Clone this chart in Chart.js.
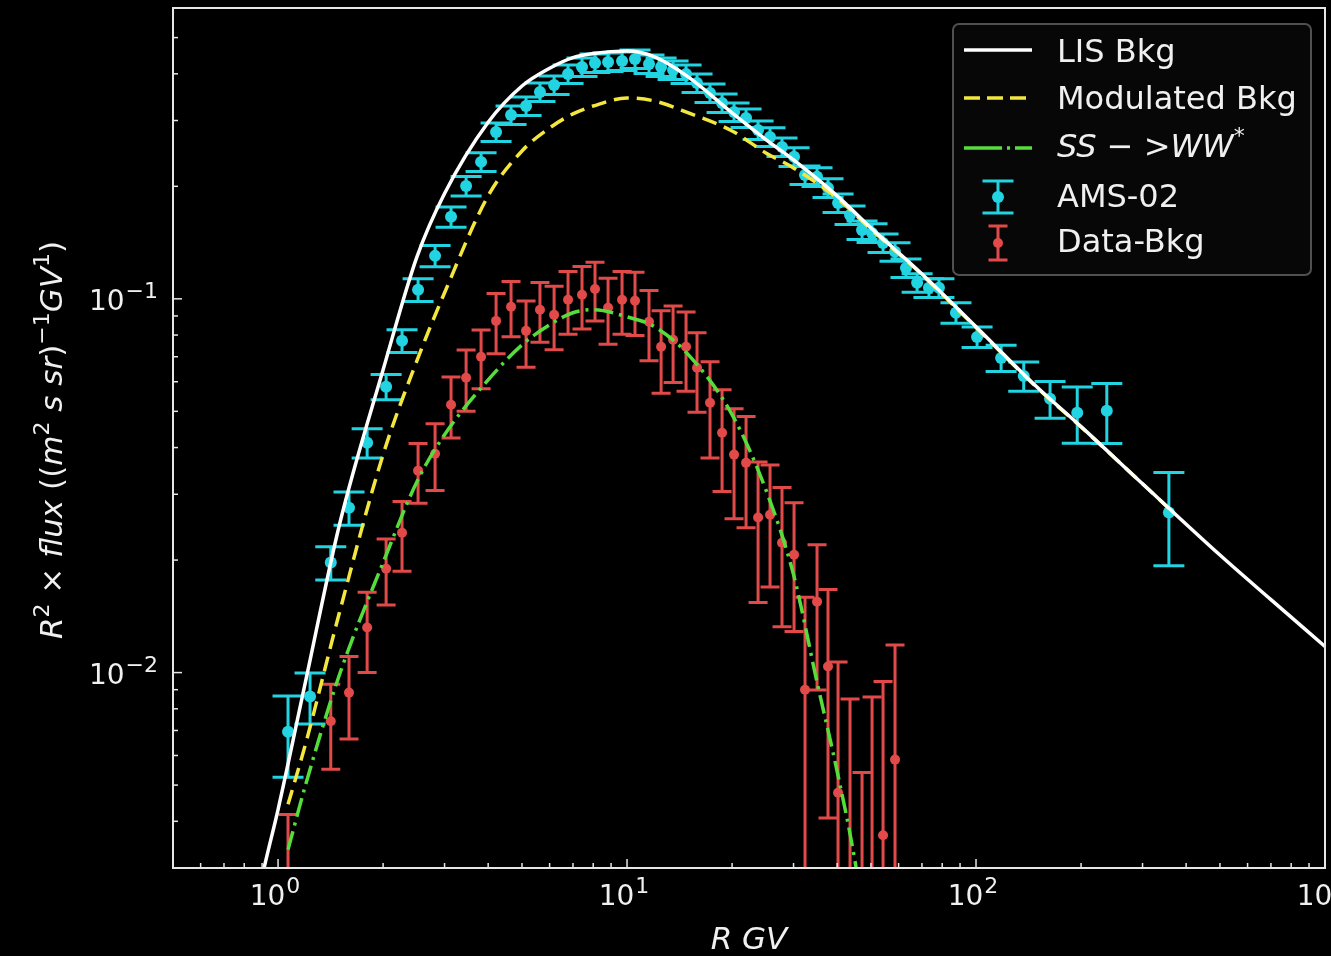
<!DOCTYPE html>
<html>
<head>
<meta charset="utf-8">
<script src="https://cdn.jsdelivr.net/npm/chart.js@4.4.1/dist/chart.umd.min.js"></script>
<style>
  html, body { margin: 0; padding: 0; background: #000; overflow: hidden; }
  canvas { display: block; }
</style>
</head>
<body>
<canvas id="mycanvas" width="1331" height="956"></canvas>
<script>
// LIS background (white solid)
var lisR    = [0.85, 0.912, 1.0, 1.2, 1.5, 2, 2.5, 3, 4, 5, 6, 7, 8, 10, 12, 15, 20, 25, 30, 40, 50, 70, 100, 150, 200, 300, 500, 700, 1000];
var lisFlux = [0.0022, 0.003, 0.0043, 0.0095, 0.0249, 0.0646, 0.1295, 0.1914, 0.2967, 0.371, 0.414, 0.442, 0.4533, 0.4603, 0.444, 0.392, 0.3144, 0.2667, 0.2353, 0.1886, 0.1548, 0.1166, 0.0842, 0.0579, 0.0455, 0.032, 0.02063, 0.01567, 0.01174];

// modulated background (yellow dashed)
var modR    = [1.068, 1.2, 1.5, 2, 2.5, 3, 4, 5, 6, 7, 8, 10, 12, 15, 20, 25, 30, 40, 50, 70, 100, 150, 200, 357];
var modFlux = [0.00444, 0.00646, 0.0145, 0.0383, 0.0683, 0.1038, 0.1886, 0.2487, 0.2866, 0.3125, 0.328, 0.3446, 0.3383, 0.3144, 0.2812, 0.2457, 0.224, 0.186, 0.1535, 0.116, 0.0838, 0.0577, 0.0454, 0.0275];

// SS -> WW* (green dash-dot)
var ssR    = [1.068, 1.2, 1.5, 2, 2.5, 3, 4, 5, 6, 7, 8, 10, 12, 15, 20, 25, 30, 35, 40, 45, 48];
var ssFlux = [0.00336, 0.00502, 0.00988, 0.0197, 0.0324, 0.0433, 0.0607, 0.0753, 0.0852, 0.0918, 0.0935, 0.0895, 0.0842, 0.0708, 0.049, 0.0308, 0.01828, 0.00946, 0.00544, 0.00313, 0.0021];

// AMS-02 points with errors
var amsR    = [1.068, 1.235, 1.416, 1.597, 1.80, 2.04, 2.266, 2.519, 2.818, 3.131, 3.458, 3.817, 4.214, 4.652, 5.136, 5.63, 6.18, 6.776, 7.43, 8.095, 8.823, 9.676, 10.54, 11.56, 12.52, 13.55, 14.76, 15.87, 17.29, 18.72, 20.26, 21.93, 23.74, 25.69, 27.8, 30.1, 32.36, 35.03, 37.66, 40.24, 43.55, 47.14, 50.36, 54.15, 58.6, 63.0, 67.8, 73.3, 78.3, 87.6, 100.7, 118, 137, 163, 195, 237, 357];
var amsFlux = [0.00695, 0.00863, 0.0197, 0.0276, 0.0412, 0.0582, 0.0772, 0.1057, 0.1303, 0.1657, 0.2005, 0.2325, 0.2795, 0.3105, 0.328, 0.3577, 0.3734, 0.3996, 0.4172, 0.4276, 0.430, 0.4329, 0.4383, 0.425, 0.4172, 0.4096, 0.3996, 0.378, 0.3555, 0.3342, 0.3162, 0.3048, 0.283, 0.2712, 0.255, 0.2398, 0.2146, 0.212, 0.1981, 0.1806, 0.1677, 0.1529, 0.1501, 0.1411, 0.1336, 0.121, 0.1104, 0.107, 0.107, 0.0918, 0.0791, 0.0695, 0.0622, 0.054, 0.0496, 0.0502, 0.0268];
var amsErr  = [0.0017, 0.00135, 0.002, 0.0028, 0.0037, 0.0045, 0.0054, 0.0074, 0.0085, 0.0103, 0.012, 0.0135, 0.016, 0.0177, 0.0187, 0.0204, 0.0213, 0.0228, 0.0238, 0.0244, 0.0245, 0.0247, 0.025, 0.0242, 0.0238, 0.0233, 0.0228, 0.0215, 0.0203, 0.019, 0.018, 0.0174, 0.0161, 0.0155, 0.0145, 0.0137, 0.0122, 0.0121, 0.0113, 0.0103, 0.0096, 0.0087, 0.0086, 0.008, 0.0076, 0.0069, 0.0063, 0.0061, 0.0061, 0.0058, 0.005, 0.0056, 0.0056, 0.0061, 0.0085, 0.0092, 0.0075];

// Data - Bkg points with errors
var diffR    = [1.068, 1.416, 1.597, 1.80, 2.04, 2.266, 2.519, 2.818, 3.131, 3.458, 3.817, 4.214, 4.652, 5.136, 5.63, 6.18, 6.776, 7.43, 8.095, 8.823, 9.676, 10.54, 11.56, 12.52, 13.55, 14.76, 15.87, 17.29, 18.72, 20.26, 21.93, 23.74, 25.69, 27.8, 30.1, 32.36, 35.03, 37.66, 40.24, 43.55, 47.14, 50.36, 54.15, 58.6];
var diffFlux = [0.0027, 0.00741, 0.00884, 0.0132, 0.01897, 0.02367, 0.0347, 0.0385, 0.0521, 0.0615, 0.07, 0.0873, 0.0952, 0.0821, 0.0935, 0.0906, 0.0994, 0.1025, 0.1063, 0.0946, 0.0994, 0.0988, 0.0868, 0.0744, 0.0777, 0.0744, 0.0654, 0.0527, 0.0438, 0.0383, 0.0364, 0.026, 0.02645, 0.02226, 0.02067, 0.009, 0.01548, 0.01038, 0.00477, 0.0025, 0.0015, 0.002, 0.00367, 0.00585];
var diffErr  = [0.00147, 0.0019, 0.0022, 0.0032, 0.0038, 0.005, 0.0063, 0.0078, 0.0097, 0.0115, 0.0125, 0.016, 0.016, 0.0165, 0.017, 0.0175, 0.019, 0.0195, 0.019, 0.019, 0.019, 0.019, 0.0185, 0.0185, 0.018, 0.0178, 0.0157, 0.0152, 0.0133, 0.0125, 0.012, 0.0106, 0.0095, 0.009, 0.0078, 0.0069, 0.0065, 0.0063, 0.0059, 0.006, 0.0039, 0.0066, 0.0058, 0.006];

var xMin = 0.5, xMax = 1000, yMin = 0.003, yMax = 0.6;

var FONT = "'DejaVu Sans', sans-serif";
var TXT = '#f0f0f0';
var CYAN = '#22d3e2';
var RED = '#e24a4a';
var YELLOW = '#f3e63e';
var GREEN = '#55dd3c';

function pts(xs, ys) {
  return xs.map(function (x, i) { return { x: x, y: ys[i] }; });
}

function drawRich(c, parts, x, y, align) {
  var w = 0;
  parts.forEach(function (p) {
    c.font = (p.italic ? 'italic ' : '') + p.size + 'px ' + FONT;
    p.w = c.measureText(p.t).width + (p.gap || 0);
    w += p.w;
  });
  var cx = align === 'center' ? x - w / 2 : (align === 'right' ? x - w : x);
  c.textAlign = 'left';
  c.textBaseline = 'alphabetic';
  parts.forEach(function (p) {
    c.font = (p.italic ? 'italic ' : '') + p.size + 'px ' + FONT;
    c.fillText(p.t, cx, y - (p.rise || 0));
    cx += p.w;
  });
}

function powLabel(e) {
  return [
    { t: '10', size: 28, gap: 1 },
    { t: (e < 0 ? '\u2212' + (-e) : '' + e), size: 22, rise: 12 }
  ];
}

function drawErrorBars(chart, ds) {
  var xs = chart.scales.x, ys = chart.scales.y, area = chart.chartArea, c = chart.ctx;
  c.save();
  c.beginPath();
  c.rect(area.left, area.top, area.right - area.left, area.bottom - area.top);
  c.clip();
  c.strokeStyle = ds.pointBackgroundColor;
  c.lineWidth = 3;
  c.setLineDash([]);
  ds.data.forEach(function (p, i) {
    var e = ds.yErr[i];
    var px = xs.getPixelForValue(p.x);
    var top = ys.getPixelForValue(p.y + e);
    var lo = p.y - e;
    var bot = lo > 0 ? ys.getPixelForValue(lo) : area.bottom + 40;
    var h = ds.capWidth / 2;
    c.beginPath();
    c.moveTo(px, top); c.lineTo(px, bot);
    c.moveTo(px - h, top); c.lineTo(px + h, top);
    if (lo > 0) { c.moveTo(px - h, bot); c.lineTo(px + h, bot); }
    c.stroke();
  });
  c.restore();
}

function errGlyph(c, x, y, col, half, cap, r) {
  c.strokeStyle = col; c.fillStyle = col; c.lineWidth = 3; c.setLineDash([]);
  c.beginPath();
  c.moveTo(x, y - half); c.lineTo(x, y + half);
  c.moveTo(x - cap / 2, y - half); c.lineTo(x + cap / 2, y - half);
  c.moveTo(x - cap / 2, y + half); c.lineTo(x + cap / 2, y + half);
  c.stroke();
  c.beginPath(); c.arc(x, y, r, 0, Math.PI * 2); c.fill();
}

var framePlugin = {
  id: 'frame',
  beforeDraw: function (chart) {
    var c = chart.ctx;
    c.save();
    c.fillStyle = '#000';
    c.fillRect(0, 0, chart.width, chart.height);
    c.restore();
  },
  beforeDatasetDraw: function (chart, args) {
    var ds = chart.data.datasets[args.index];
    if (ds.yErr) drawErrorBars(chart, ds);
  },
  afterDraw: function (chart) {
    var c = chart.ctx, a = chart.chartArea, xs = chart.scales.x, ys = chart.scales.y;
    c.save();
    // spines
    c.strokeStyle = '#e6e6e6';
    c.lineWidth = 2;
    c.strokeRect(a.left, a.top, a.right - a.left, a.bottom - a.top);

    // inward ticks
    c.lineWidth = 1.5;
    c.fillStyle = TXT;
    var d, m, v, p, len;
    for (d = -1; d <= 3; d++) {
      for (m = 1; m <= 9; m++) {
        v = m * Math.pow(10, d);
        if (v < xMin - 1e-9 || v > xMax + 1e-9) continue;
        p = xs.getPixelForValue(v);
        len = m === 1 ? 9 : 5;
        c.beginPath(); c.moveTo(p, a.bottom); c.lineTo(p, a.bottom - len); c.stroke();
        if (m === 1) drawRich(c, powLabel(d), p - 3, 905, 'center');
      }
    }
    for (d = -3; d <= -1; d++) {
      for (m = 1; m <= 9; m++) {
        v = m * Math.pow(10, d);
        if (v < yMin - 1e-9 || v > yMax + 1e-9) continue;
        p = ys.getPixelForValue(v);
        len = m === 1 ? 9 : 5;
        c.beginPath(); c.moveTo(a.left, p); c.lineTo(a.left + len, p); c.stroke();
        if (m === 1) drawRich(c, powLabel(d), 158, p + 11, 'right');
      }
    }

    // axis titles
    drawRich(c, [{ t: 'R GV', size: 31, italic: true }], (a.left + a.right) / 2, 949, 'center');
    c.save();
    c.translate(62, 440);
    c.rotate(-Math.PI / 2);
    drawRich(c, [
      { t: 'R', size: 31, italic: true },
      { t: '2', size: 22, rise: 13 },
      { t: ' \u00d7 ', size: 31 },
      { t: 'flux', size: 31, italic: true },
      { t: ' ((', size: 31 },
      { t: 'm', size: 31, italic: true },
      { t: '2', size: 22, rise: 13 },
      { t: ' s sr', size: 31, italic: true },
      { t: ')', size: 31 },
      { t: '\u22121', size: 22, rise: 13 },
      { t: 'GV', size: 31, italic: true },
      { t: '1', size: 22, rise: 13 },
      { t: ')', size: 31 }
    ], 0, 0, 'center');
    c.restore();

    // legend
    var bx = 953, by = 24, bw = 358, bh = 251, r = 6;
    c.beginPath();
    c.moveTo(bx + r, by);
    c.arcTo(bx + bw, by, bx + bw, by + bh, r);
    c.arcTo(bx + bw, by + bh, bx, by + bh, r);
    c.arcTo(bx, by + bh, bx, by, r);
    c.arcTo(bx, by, bx + bw, by, r);
    c.closePath();
    c.fillStyle = 'rgba(8,8,8,0.85)';
    c.fill();
    c.strokeStyle = '#505050';
    c.lineWidth = 2;
    c.stroke();

    c.lineWidth = 3.5;
    c.strokeStyle = '#ffffff';
    c.setLineDash([]);
    c.beginPath(); c.moveTo(964, 50); c.lineTo(1032, 50); c.stroke();
    c.strokeStyle = YELLOW;
    c.setLineDash([16, 7]);
    c.beginPath(); c.moveTo(964, 98); c.lineTo(1032, 98); c.stroke();
    c.strokeStyle = GREEN;
    c.setLineDash([38, 5, 3, 5]);
    c.beginPath(); c.moveTo(964, 148); c.lineTo(1032, 148); c.stroke();
    c.setLineDash([]);
    errGlyph(c, 998, 197, CYAN, 16, 31, 6);
    errGlyph(c, 998, 243, RED, 17, 19, 5);

    c.fillStyle = TXT;
    drawRich(c, [{ t: 'LIS Bkg', size: 32 }], 1057, 62, 'left');
    drawRich(c, [{ t: 'Modulated Bkg', size: 32 }], 1057, 109, 'left');
    drawRich(c, [
      { t: 'SS', size: 32, italic: true },
      { t: ' \u2212 ', size: 32 },
      { t: '>', size: 32 },
      { t: 'WW', size: 32, italic: true },
      { t: '*', size: 22, rise: 14 }
    ], 1057, 157, 'left');
    drawRich(c, [{ t: 'AMS-02', size: 32 }], 1057, 207, 'left');
    drawRich(c, [{ t: 'Data-Bkg', size: 32 }], 1057, 252, 'left');
    c.restore();
  }
};

var ctx = document.getElementById('mycanvas').getContext('2d');
var chart = new Chart(ctx, {
  type: 'line',
  data: {
    datasets: [{
      label: 'LIS Bkg',
      data: pts(lisR, lisFlux),
      borderColor: '#ffffff',
      borderWidth: 3.5,
      pointRadius: 0,
      cubicInterpolationMode: 'monotone',
      clip: 0,
      order: 0
    }, {
      label: 'Modulated Bkg',
      data: pts(modR, modFlux),
      borderColor: YELLOW,
      borderWidth: 3.5,
      borderDash: [15, 8],
      pointRadius: 0,
      cubicInterpolationMode: 'monotone',
      clip: 0,
      order: 2
    }, {
      label: 'SS->WW*',
      data: pts(ssR, ssFlux),
      borderColor: GREEN,
      borderWidth: 3.5,
      borderDash: [19, 6, 3, 6],
      pointRadius: 0,
      cubicInterpolationMode: 'monotone',
      clip: 0,
      order: 1
    }, {
      label: 'AMS-02',
      data: pts(amsR, amsFlux),
      yErr: amsErr,
      capWidth: 31,
      showLine: false,
      pointRadius: 6,
      pointBorderWidth: 0,
      pointBackgroundColor: CYAN,
      borderColor: CYAN,
      clip: 0,
      order: 4
    }, {
      label: 'Data-Bkg',
      data: pts(diffR, diffFlux),
      yErr: diffErr,
      capWidth: 19,
      showLine: false,
      pointRadius: 5,
      pointBorderWidth: 0,
      pointBackgroundColor: RED,
      borderColor: RED,
      clip: 0,
      order: 3
    }]
  },
  options: {
    responsive: false,
    animation: false,
    layout: { padding: { left: 173, top: 8, right: 5, bottom: 88 } },
    plugins: { legend: { display: false }, tooltip: { enabled: false } },
    scales: {
      x: { type: 'logarithmic', min: xMin, max: xMax, display: false },
      y: { type: 'logarithmic', min: yMin, max: yMax, display: false }
    }
  },
  plugins: [framePlugin]
});
</script>
</body>
</html>
